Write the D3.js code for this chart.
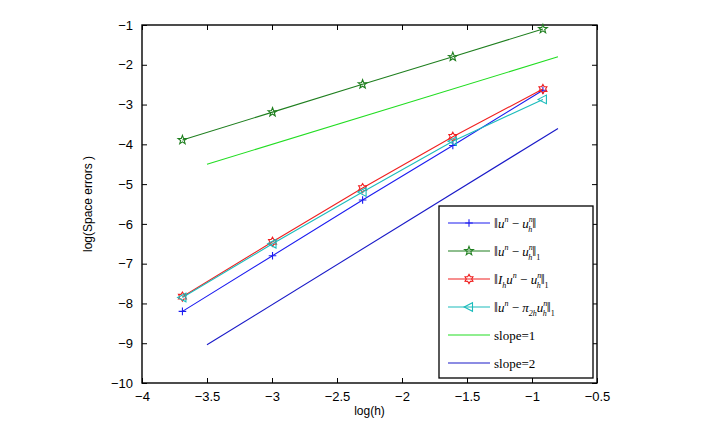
<!DOCTYPE html>
<html>
<head>
<meta charset="utf-8">
<script src="https://cdn.jsdelivr.net/npm/d3@7"></script>
<style>
  body { margin: 0; background: #fff; }
  svg { display: block; }
  .tick text { font-family: "Liberation Sans", Arial, sans-serif; }
</style>
</head>
<body>
<div id="chart"></div>
<script>
// log(h) for h = 1/40, 1/20, 1/10, 1/5, 2/5
const logH = [-3.689, -2.996, -2.303, -1.609, -0.916];

const errL2 = [-8.2, -6.8, -5.4, -4.03, -2.64];
const errH1 = [-3.89, -3.19, -2.49, -1.8, -1.1];
const errIh = [-7.83, -6.45, -5.1, -3.81, -2.61];
const errPi = [-7.85, -6.5, -5.2, -3.92, -2.87];

const slope1X = [-3.5, -0.8];
const slope1Y = [-4.5, -1.8];
const slope2X = [-3.5, -0.8];
const slope2Y = [-9.04, -3.6];

const xTicks = [-4, -3.5, -3, -2.5, -2, -1.5, -1, -0.5];
const yTicks = [-10, -9, -8, -7, -6, -5, -4, -3, -2, -1];

const W = 713, H = 424;
const margin = { top: 25, right: 116, bottom: 41, left: 142 };
const width = W - margin.left - margin.right,
      height = H - margin.top - margin.bottom;

const svg = d3.select("#chart").append("svg")
    .attr("width", W)
    .attr("height", H);

const chart = svg.append("g")
    .attr("transform", `translate(${margin.left},${margin.top})`);

const x = d3.scaleLinear().domain([-4, -0.5]).range([0, width]);
const y = d3.scaleLinear().domain([-10, -1]).range([height, 0]);

// axes with inward ticks on all four sides
const fmt = d => d3.format("")(d).replace("-", "\u2212");
chart.append("g")
    .attr("transform", `translate(0,${height})`)
    .call(d3.axisBottom(x).tickValues(xTicks).tickSizeInner(-5).tickSizeOuter(0).tickPadding(9).tickFormat(fmt))
    .style("font-size", "13px");
chart.append("g")
    .call(d3.axisLeft(y).tickValues(yTicks).tickSizeInner(-5).tickSizeOuter(0).tickPadding(9).tickFormat(fmt))
    .style("font-size", "13px");
chart.append("g")
    .call(d3.axisTop(x).tickValues(xTicks).tickSizeInner(-5).tickSizeOuter(0).tickFormat(""));
chart.append("g")
    .attr("transform", `translate(${width},0)`)
    .call(d3.axisRight(y).tickValues(yTicks).tickSizeInner(-5).tickSizeOuter(0).tickFormat(""));
chart.selectAll(".domain").remove();
chart.selectAll(".tick line").attr("stroke", "#000").attr("stroke-width", 1);
chart.selectAll(".tick text").attr("fill", "#000");

chart.append("rect")
    .attr("width", width)
    .attr("height", height)
    .attr("fill", "none")
    .attr("stroke", "#000")
    .attr("stroke-width", 1.4);

// axis labels
svg.append("text")
    .attr("x", margin.left + width / 2)
    .attr("y", H - 9)
    .attr("text-anchor", "middle")
    .style("font-family", "Liberation Sans, Arial, sans-serif")
    .style("font-size", "12px")
    .text("log(h)");
svg.append("text")
    .attr("transform", `translate(92,${margin.top + height / 2}) rotate(-90)`)
    .attr("text-anchor", "middle")
    .style("font-family", "Liberation Sans, Arial, sans-serif")
    .style("font-size", "12px")
    .text("log(Space errors )");

// marker shapes
function starPath(points, rOut, rIn) {
    const p = [];
    for (let i = 0; i < points * 2; i++) {
        const r = i % 2 === 0 ? rOut : rIn;
        const a = -Math.PI / 2 + i * Math.PI / points;
        p.push([r * Math.cos(a), r * Math.sin(a)]);
    }
    return "M" + p.map(q => q.join(",")).join("L") + "Z";
}
const markers = {
    plus: "M-3.8,0L3.8,0M0,-3.8L0,3.8",
    penta: starPath(5, 4.6, 1.9),
    hexa: starPath(6, 4.6, 2.7),
    tri: "M-4.8,0L3.5,-4.3L3.5,4.3Z"
};

const series = [
    { name: "l2", ys: errL2, color: "#1c1cf0", marker: "plus" },
    { name: "h1", ys: errH1, color: "#1f7f1f", marker: "penta" },
    { name: "ih", ys: errIh, color: "#f02020", marker: "hexa" },
    { name: "pi", ys: errPi, color: "#1cbcbc", marker: "tri" }
];

const line = d3.line().x(d => x(d[0])).y(d => y(d[1]));

series.forEach(s => {
    const pts = logH.map((v, i) => [v, s.ys[i]]);
    chart.append("path")
        .datum(pts)
        .attr("d", line)
        .attr("fill", "none")
        .attr("stroke", s.color)
        .attr("stroke-width", 1.1);
    chart.selectAll(".m-" + s.name)
        .data(pts)
        .enter()
        .append("path")
        .attr("class", "m-" + s.name)
        .attr("transform", d => `translate(${x(d[0])},${y(d[1])})`)
        .attr("d", markers[s.marker])
        .attr("fill", "none")
        .attr("stroke", s.color)
        .attr("stroke-width", 1.1);
});

const refLines = [
    { xs: slope1X, ys: slope1Y, color: "#22dd22" },
    { xs: slope2X, ys: slope2Y, color: "#1a1ac8" }
];
refLines.forEach(r => {
    chart.append("path")
        .datum(r.xs.map((v, i) => [v, r.ys[i]]))
        .attr("d", line)
        .attr("fill", "none")
        .attr("stroke", r.color)
        .attr("stroke-width", 1.1);
});

// legend
const lg = svg.append("g").attr("transform", "translate(439,206)");
lg.append("rect")
    .attr("width", 154)
    .attr("height", 172)
    .attr("fill", "#fff")
    .attr("stroke", "#000")
    .attr("stroke-width", 1.3);

// pieces: [text, italic, shift] shift: 0 normal, 1 sup, -1 sub, "b" = sub stacked under previous sup
const uhn = [["u", 1, 0], ["n", 1, 1], ["h", 1, "b"]];
const legendItems = [
    { s: series[0], parts: [["\u2016", 0, 0], ["u", 1, 0], ["n", 1, 1], [" \u2212 ", 0, 0], ...uhn, ["\u2016", 0, 0]] },
    { s: series[1], parts: [["\u2016", 0, 0], ["u", 1, 0], ["n", 1, 1], [" \u2212 ", 0, 0], ...uhn, ["\u2016", 0, 0], ["1", 0, -1]] },
    { s: series[2], parts: [["\u2016", 0, 0], ["I", 1, 0], ["h", 1, -1], ["u", 1, 0], ["n", 1, 1], [" \u2212 ", 0, 0], ...uhn, ["\u2016", 0, 0], ["1", 0, -1]] },
    { s: series[3], parts: [["\u2016", 0, 0], ["u", 1, 0], ["n", 1, 1], [" \u2212 ", 0, 0], ["\u03c0", 1, 0], ["2h", 1, -1], ...uhn, ["\u2016", 0, 0], ["1", 0, -1]] },
    { s: { color: refLines[0].color }, parts: [["slope=1", 0, 0]] },
    { s: { color: refLines[1].color }, parts: [["slope=2", 0, 0]] }
];

legendItems.forEach((it, i) => {
    const yy = 17 + i * 28;
    lg.append("line")
        .attr("x1", 9).attr("x2", 51)
        .attr("y1", yy).attr("y2", yy)
        .attr("stroke", it.s.color)
        .attr("stroke-width", 1.1);
    if (it.s.marker) {
        lg.append("path")
            .attr("transform", `translate(30,${yy})`)
            .attr("d", markers[it.s.marker])
            .attr("fill", "none")
            .attr("stroke", it.s.color)
            .attr("stroke-width", 1.1);
    }
    const t = lg.append("text")
        .attr("x", 55)
        .attr("y", yy + 4.5)
        .style("font-family", "Liberation Serif, 'Times New Roman', serif")
        .style("font-size", "13px");
    let cur = 0;
    it.parts.forEach(p => {
        const [txt, ital, sh] = p;
        const ts = t.append("tspan").text(txt);
        if (ital) ts.style("font-style", "italic");
        if (txt === "\u2016") ts.style("font-size", "14px");
        let target = 0;
        if (sh === 1) { target = -6; ts.style("font-size", "8px"); }
        else if (sh === -1) { target = 4; ts.style("font-size", "8px"); }
        else if (sh === "b") { target = 4; ts.style("font-size", "8px").attr("dx", -4.5); }
        if (target !== cur) ts.attr("dy", target - cur);
        cur = target;
    });
});
</script>
</body>
</html>
